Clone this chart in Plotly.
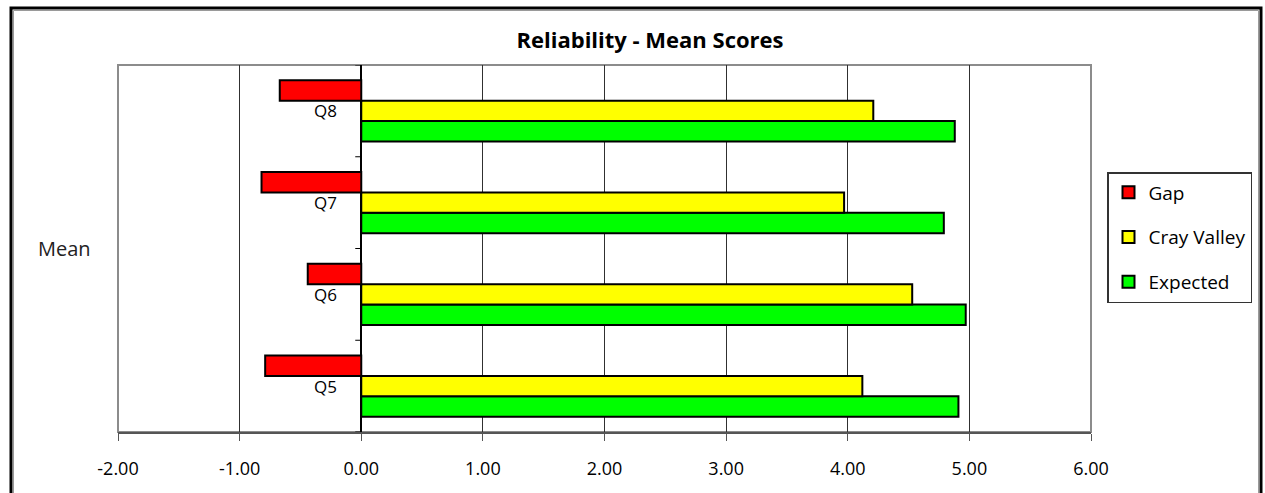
import plotly.graph_objects as go

# Reliability survey: mean scores per question
questions = ["Q5", "Q6", "Q7", "Q8"]
expected = [4.91, 4.97, 4.79, 4.88]
cray_valley = [4.12, 4.53, 3.97, 4.21]
gap = [-0.79, -0.44, -0.82, -0.67]

x_ticks = [-2, -1, 0, 1, 2, 3, 4, 5, 6]
x_tick_text = ["-2.00", "-1.00", "0.00", "1.00", "2.00", "3.00", "4.00", "5.00", "6.00"]

FONT = "'Open Sans', Lato, sans-serif"
W, H = 1265, 493
ML, MR, MT, MB = 118, 174, 65, 61
PW, PH = W - ML - MR, H - MT - MB


def px_x(p):
    return (p - ML) / PW


def px_y(p):
    return (H - MB - p) / PH


fig = go.Figure()
# traces are added bottom-to-top inside each group; legend shows Gap first
series = [
    ("Expected", expected, "#00FF00", 3),
    ("Cray Valley", cray_valley, "#FFFF00", 2),
    ("Gap", gap, "#FF0000", 1),
]
for name, vals, color, rank in series:
    fig.add_trace(go.Bar(
        y=questions, x=vals, name=name, orientation="h",
        legendgroup=name, legendrank=rank,
        marker=dict(color=color, line=dict(color="black", width=2)),
    ))

# short category ticks on the vertical axis at x = 0
shapes = [dict(type="line", xref="x", yref="y", xsizemode="pixel", xanchor=0,
               x0=-6, x1=0, y0=i - 0.5, y1=i - 0.5,
               line=dict(color="black", width=1))
          for i in range(len(questions) + 1)]
# plot frame (top, left, right)
shapes.append(dict(type="rect", xref="paper", yref="paper", x0=0, x1=1, y0=0, y1=1,
                   line=dict(color="#8c8c8c", width=2), layer="below"))
# outer chart border
shapes.append(dict(type="rect", xref="paper", yref="paper",
                   x0=px_x(11), x1=px_x(1261), y0=px_y(510), y1=px_y(8),
                   line=dict(color="black", width=3)))
shapes.append(dict(type="rect", xref="paper", yref="paper",
                   x0=px_x(13.5), x1=px_x(1258.5), y0=px_y(510), y1=px_y(10.5),
                   line=dict(color="#9a9a9a", width=1)))

annotations = [
    dict(x=0, y=q, xref="x", yref="y", text=q, showarrow=False,
         xanchor="right", yanchor="middle", xshift=-22,
         font=dict(family=FONT, size=17, color="black"))
    for q in questions
]
annotations.append(dict(x=px_x(64), y=0.5, xref="paper", yref="paper", text="Mean",
                        showarrow=False, xanchor="center", yanchor="middle",
                        font=dict(family=FONT, size=20, color="#222222")))

fig.update_layout(
    width=W, height=H,
    margin=dict(l=ML, r=MR, t=MT, b=MB),
    paper_bgcolor="white", plot_bgcolor="white",
    barmode="group", bargap=0.33, bargroupgap=0,
    title=dict(text="<b>Reliability - Mean Scores</b>", x=650 / W, xanchor="center",
               y=1 - 40 / H, yanchor="middle", yref="container",
               font=dict(family=FONT, size=22, color="black")),
    xaxis=dict(range=[-2, 6], tickvals=x_ticks, ticktext=x_tick_text,
               showgrid=True, gridcolor="#303030", gridwidth=1,
               zeroline=True, zerolinecolor="black", zerolinewidth=1.5,
               showline=True, linecolor="#555555", linewidth=2,
               ticks="outside", ticklen=7, tickcolor="#555555",
               ticklabelstandoff=12,
               tickfont=dict(family=FONT, size=18, color="black"), fixedrange=True),
    yaxis=dict(categoryorder="array", categoryarray=questions,
               range=[-0.5, len(questions) - 0.5],
               showticklabels=False, showgrid=False, zeroline=False,
               showline=False, ticks="", fixedrange=True),
    legend=dict(x=px_x(1107), y=px_y(172), xanchor="left", yanchor="top",
                traceorder="grouped", tracegroupgap=17,
                bordercolor="#333333", borderwidth=1.5, bgcolor="white",
                font=dict(family=FONT, size=19, color="black"),
                itemwidth=30),
    shapes=shapes,
    annotations=annotations,
    showlegend=True,
)

fig.write_html("out.html")
